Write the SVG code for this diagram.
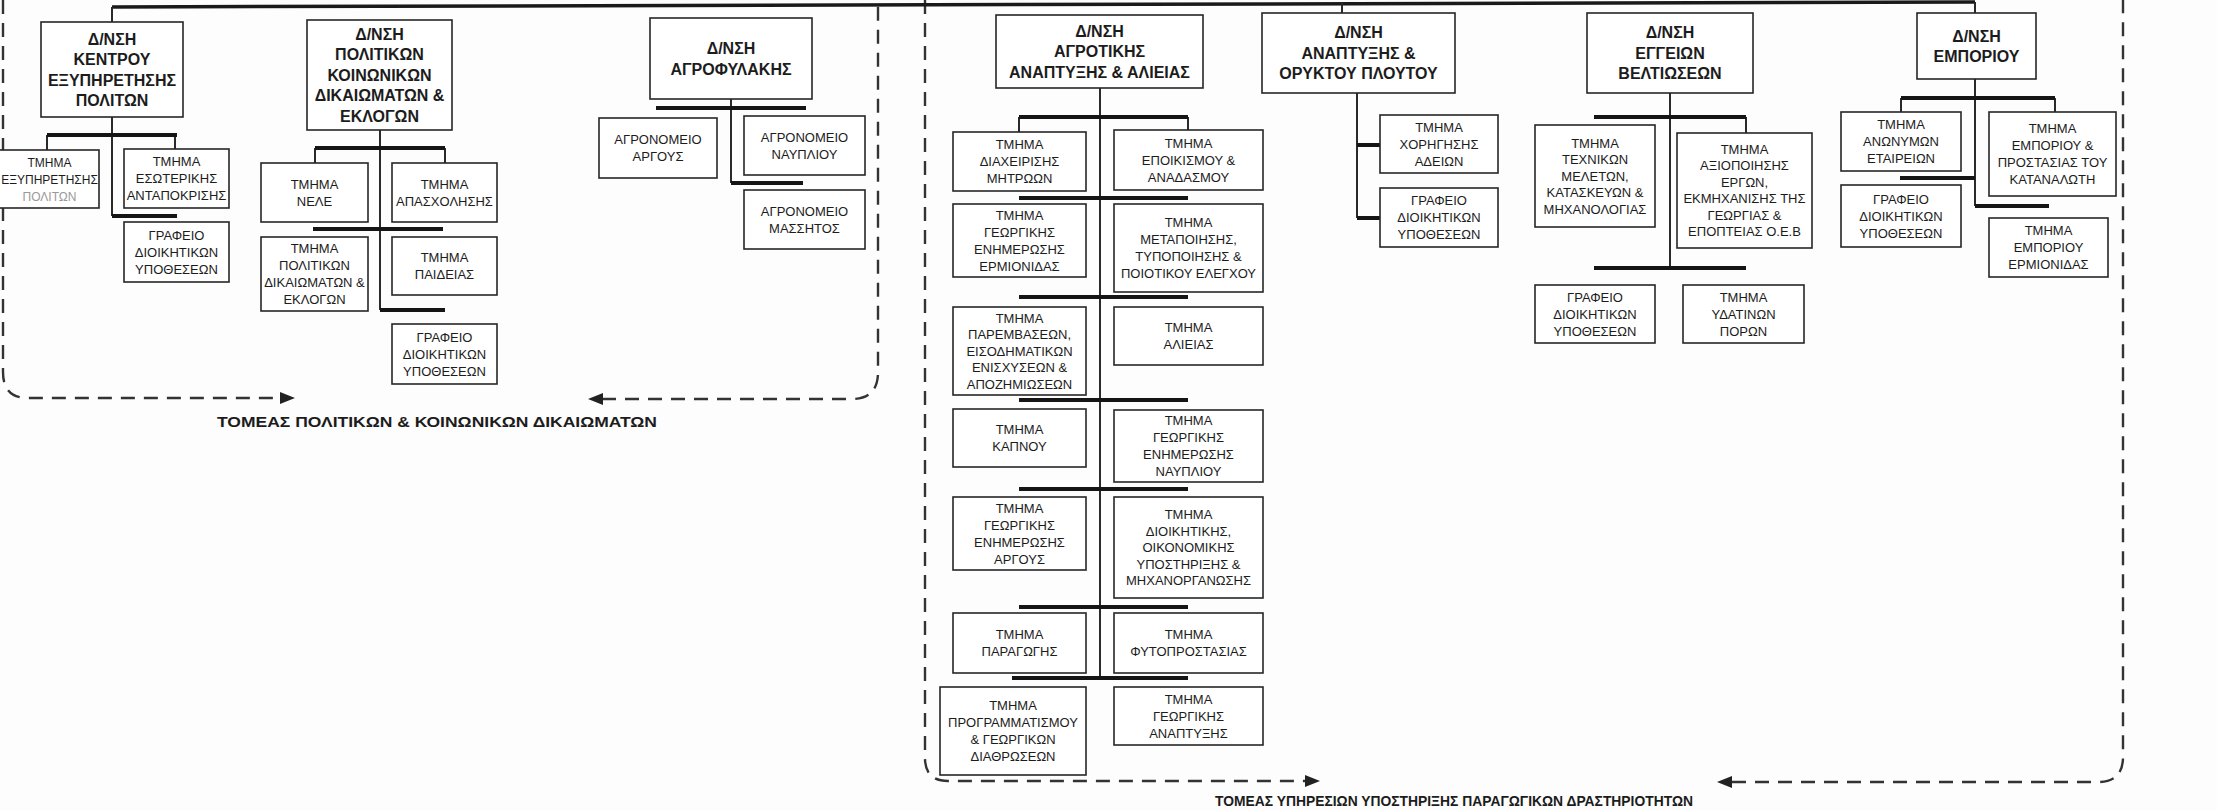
<svg xmlns="http://www.w3.org/2000/svg" width="2217" height="811" viewBox="0 0 2217 811">
<style>
text{font-family:"Liberation Sans",Arial,sans-serif;fill:#1c1c1c;text-anchor:middle}
.h{font-size:16px;font-weight:bold}
.s{font-size:13px}
.box{fill:#fff;stroke:#262626;stroke-width:1.6}
.ln{fill:none;stroke:#2a2a2a;stroke-width:2}
.bar{fill:none;stroke:#151515;stroke-width:4}
.top{fill:none;stroke:#1a1a1a;stroke-width:3.5}
.dash{fill:none;stroke:#333;stroke-width:2.4;stroke-dasharray:14 9}
.arr{fill:#222}
.lab{font-size:15px;font-weight:bold;text-anchor:start}
</style>
<rect width="2217" height="811" fill="#fdfdfd"/>

<g id="sectors">
<path class="dash" d="M3 0 V372 Q3 398 28 398 H282"/>
<polygon class="arr" points="295,398 280,392 280,404"/>
<path class="dash" d="M602 399 H852 Q878 399 878 372 V0"/>
<polygon class="arr" points="588,399 603,393 603,405"/>
<text class="lab" x="217" y="427" textLength="440" lengthAdjust="spacingAndGlyphs">ΤΟΜΕΑΣ ΠΟΛΙΤΙΚΩΝ &amp; ΚΟΙΝΩΝΙΚΩΝ ΔΙΚΑΙΩΜΑΤΩΝ</text>
<path class="dash" d="M925 0 V758 Q925 781 948 781 H1306"/>
<polygon class="arr" points="1320,781 1305,775 1305,787"/>
<path class="dash" d="M1732 782 H2098 Q2123 782 2123 757 V0"/>
<polygon class="arr" points="1717,782 1732,776 1732,788"/>
<text class="lab" x="1215" y="806" textLength="478" lengthAdjust="spacingAndGlyphs">ΤΟΜΕΑΣ ΥΠΗΡΕΣΙΩΝ ΥΠΟΣΤΗΡΙΞΗΣ ΠΑΡΑΓΩΓΙΚΩΝ ΔΡΑΣΤΗΡΙΟΤΗΤΩΝ</text>
</g>

<g id="connectors">
<path class="top" d="M112 7 L1975 2"/>
<path class="ln" d="M112 7 V22 M112 117 V216 M47 135 V150 M175 135 V149"/>
<path class="bar" d="M47 135 H177 M112 216 H177"/>
<path class="ln" d="M380 130 V310 M315 148 V163 M445 148 V163"/>
<path class="bar" d="M315 148 H445 M313 229 H443 M380 310 H445"/>
<path class="ln" d="M731 99 V183"/>
<path class="bar" d="M656 108 H806 M731 183 H803"/>
<path class="ln" d="M1100 88 V678 M1019 117 V132 M1188 117 V130"/>
<path class="bar" d="M1019 117 H1188 M1019 198 H1188 M1019 297 H1188 M1019 400 H1188 M1019 489 H1188 M1019 607 H1188 M1012 678 H1188"/>
<path class="ln" d="M1342 3 V13 M1357 93 V218"/>
<path class="bar" d="M1357 145 H1380 M1357 218 H1380"/>
<path class="ln" d="M1670 93 V268 M1746 117 V133"/>
<path class="bar" d="M1594 117 H1746 M1594 268 H1746"/>
<path class="ln" d="M1975 2 V13 M1975 79 V206 M1901 98 V112 M2055 98 V112"/>
<path class="bar" d="M1901 98 H2055 M1900 178 H1975 M1975 206 H2049"/>
</g>

<g id="n-kentrou">
<rect class="box" x="41" y="22" width="142" height="95"/>
<text class="h"><tspan x="112" y="44.5">Δ/ΝΣΗ</tspan><tspan x="112" y="65">ΚΕΝΤΡΟΥ</tspan><tspan x="112" y="85.5">ΕΞΥΠΗΡΕΤΗΣΗΣ</tspan><tspan x="112" y="106">ΠΟΛΙΤΩΝ</tspan></text>
</g>
<g id="n-exypiretisis">
<rect class="box" x="-4" y="150" width="103" height="58"/>
<text class="s" style="font-size:12px"><tspan x="49.5" y="166.6">ΤΜΗΜΑ</tspan><tspan x="49.5" y="183.6">ΕΞΥΠΗΡΕΤΗΣΗΣ</tspan><tspan x="49.5" y="200.6" fill="#9a9a9a">ΠΟΛΙΤΩΝ</tspan></text>
</g>
<g id="n-esoterikis">
<rect class="box" x="124" y="149" width="105" height="59"/>
<text class="s"><tspan x="176.5" y="166.2">ΤΜΗΜΑ</tspan><tspan x="176.5" y="183.2">ΕΣΩΤΕΡΙΚΗΣ</tspan><tspan x="176.5" y="200.2">ΑΝΤΑΠΟΚΡΙΣΗΣ</tspan></text>
</g>
<g id="n-grafeio1">
<rect class="box" x="124" y="222" width="105" height="60"/>
<text class="s"><tspan x="176.5" y="239.6">ΓΡΑΦΕΙΟ</tspan><tspan x="176.5" y="256.6">ΔΙΟΙΚΗΤΙΚΩΝ</tspan><tspan x="176.5" y="273.6">ΥΠΟΘΕΣΕΩΝ</tspan></text>
</g>

<g id="n-politikon">
<rect class="box" x="307" y="20" width="145" height="110"/>
<text class="h"><tspan x="379.5" y="39.7">Δ/ΝΣΗ</tspan><tspan x="379.5" y="60.2">ΠΟΛΙΤΙΚΩΝ</tspan><tspan x="379.5" y="80.7">ΚΟΙΝΩΝΙΚΩΝ</tspan><tspan x="379.5" y="101.2">ΔΙΚΑΙΩΜΑΤΩΝ &amp;</tspan><tspan x="379.5" y="121.7">ΕΚΛΟΓΩΝ</tspan></text>
</g>
<g id="n-nele">
<rect class="box" x="261" y="163" width="107" height="59"/>
<text class="s"><tspan x="314.5" y="188.7">ΤΜΗΜΑ</tspan><tspan x="314.5" y="205.7">ΝΕΛΕ</tspan></text>
</g>
<g id="n-apasxolisis">
<rect class="box" x="392" y="163" width="105" height="59"/>
<text class="s"><tspan x="444.5" y="188.7">ΤΜΗΜΑ</tspan><tspan x="444.5" y="205.7">ΑΠΑΣΧΟΛΗΣΗΣ</tspan></text>
</g>
<g id="n-pol-dikaiomaton">
<rect class="box" x="261" y="237" width="107" height="74"/>
<text class="s"><tspan x="314.5" y="253.2">ΤΜΗΜΑ</tspan><tspan x="314.5" y="270.2">ΠΟΛΙΤΙΚΩΝ</tspan><tspan x="314.5" y="287.2">ΔΙΚΑΙΩΜΑΤΩΝ &amp;</tspan><tspan x="314.5" y="304.2">ΕΚΛΟΓΩΝ</tspan></text>
</g>
<g id="n-paideias">
<rect class="box" x="392" y="237" width="105" height="58"/>
<text class="s"><tspan x="444.5" y="262.2">ΤΜΗΜΑ</tspan><tspan x="444.5" y="279.2">ΠΑΙΔΕΙΑΣ</tspan></text>
</g>
<g id="n-grafeio2">
<rect class="box" x="392" y="324" width="105" height="60"/>
<text class="s"><tspan x="444.5" y="341.6">ΓΡΑΦΕΙΟ</tspan><tspan x="444.5" y="358.6">ΔΙΟΙΚΗΤΙΚΩΝ</tspan><tspan x="444.5" y="375.6">ΥΠΟΘΕΣΕΩΝ</tspan></text>
</g>

<g id="n-agrofylakis">
<rect class="box" x="650" y="18" width="162" height="81"/>
<text class="h"><tspan x="731" y="54">Δ/ΝΣΗ</tspan><tspan x="731" y="74.5">ΑΓΡΟΦΥΛΑΚΗΣ</tspan></text>
</g>
<g id="n-argous">
<rect class="box" x="599" y="118" width="118" height="60"/>
<text class="s"><tspan x="658" y="144.2">ΑΓΡΟΝΟΜΕΙΟ</tspan><tspan x="658" y="161.2">ΑΡΓΟΥΣ</tspan></text>
</g>
<g id="n-nafpliou">
<rect class="box" x="744" y="116" width="121" height="59"/>
<text class="s"><tspan x="804.5" y="141.6">ΑΓΡΟΝΟΜΕΙΟ</tspan><tspan x="804.5" y="158.6">ΝΑΥΠΛΙΟΥ</tspan></text>
</g>
<g id="n-massitos">
<rect class="box" x="744" y="190" width="121" height="59"/>
<text class="s"><tspan x="804.5" y="215.6">ΑΓΡΟΝΟΜΕΙΟ</tspan><tspan x="804.5" y="232.6">ΜΑΣΣΗΤΟΣ</tspan></text>
</g>

<g id="n-agrotikis">
<rect class="box" x="996" y="15" width="207" height="73"/>
<text class="h"><tspan x="1099.5" y="36.7">Δ/ΝΣΗ</tspan><tspan x="1099.5" y="57.2">ΑΓΡΟΤΙΚΗΣ</tspan><tspan x="1099.5" y="77.7">ΑΝΑΠΤΥΞΗΣ &amp; ΑΛΙΕΙΑΣ</tspan></text>
</g>
<g id="n-mitroon">
<rect class="box" x="953" y="132" width="133" height="59"/>
<text class="s"><tspan x="1019.5" y="149.2">ΤΜΗΜΑ</tspan><tspan x="1019.5" y="166.2">ΔΙΑΧΕΙΡΙΣΗΣ</tspan><tspan x="1019.5" y="183.2">ΜΗΤΡΩΩΝ</tspan></text>
</g>
<g id="n-epoikismou">
<rect class="box" x="1114" y="130" width="149" height="60"/>
<text class="s"><tspan x="1188.5" y="147.6">ΤΜΗΜΑ</tspan><tspan x="1188.5" y="164.6">ΕΠΟΙΚΙΣΜΟΥ &amp;</tspan><tspan x="1188.5" y="181.6">ΑΝΑΔΑΣΜΟΥ</tspan></text>
</g>
<g id="n-enim-ermionidas">
<rect class="box" x="953" y="204" width="133" height="73"/>
<text class="s"><tspan x="1019.5" y="219.6">ΤΜΗΜΑ</tspan><tspan x="1019.5" y="236.6">ΓΕΩΡΓΙΚΗΣ</tspan><tspan x="1019.5" y="253.6">ΕΝΗΜΕΡΩΣΗΣ</tspan><tspan x="1019.5" y="270.6">ΕΡΜΙΟΝΙΔΑΣ</tspan></text>
</g>
<g id="n-metapoiisis">
<rect class="box" x="1114" y="204" width="149" height="88"/>
<text class="s"><tspan x="1188.5" y="227.2">ΤΜΗΜΑ</tspan><tspan x="1188.5" y="244.2">ΜΕΤΑΠΟΙΗΣΗΣ,</tspan><tspan x="1188.5" y="261.2">ΤΥΠΟΠΟΙΗΣΗΣ &amp;</tspan><tspan x="1188.5" y="278.2">ΠΟΙΟΤΙΚΟΥ ΕΛΕΓΧΟΥ</tspan></text>
</g>
<g id="n-paremvaseon">
<rect class="box" x="953" y="307" width="133" height="88"/>
<text class="s"><tspan x="1019.5" y="322.6">ΤΜΗΜΑ</tspan><tspan x="1019.5" y="339.1">ΠΑΡΕΜΒΑΣΕΩΝ,</tspan><tspan x="1019.5" y="355.6">ΕΙΣΟΔΗΜΑΤΙΚΩΝ</tspan><tspan x="1019.5" y="372.1">ΕΝΙΣΧΥΣΕΩΝ &amp;</tspan><tspan x="1019.5" y="388.6">ΑΠΟΖΗΜΙΩΣΕΩΝ</tspan></text>
</g>
<g id="n-alieias">
<rect class="box" x="1114" y="307" width="149" height="58"/>
<text class="s"><tspan x="1188.5" y="332.2">ΤΜΗΜΑ</tspan><tspan x="1188.5" y="349.2">ΑΛΙΕΙΑΣ</tspan></text>
</g>
<g id="n-kapnou">
<rect class="box" x="953" y="409" width="133" height="58"/>
<text class="s"><tspan x="1019.5" y="434.2">ΤΜΗΜΑ</tspan><tspan x="1019.5" y="451.2">ΚΑΠΝΟΥ</tspan></text>
</g>
<g id="n-enim-nafpliou">
<rect class="box" x="1114" y="410" width="149" height="72"/>
<text class="s"><tspan x="1188.5" y="425.2">ΤΜΗΜΑ</tspan><tspan x="1188.5" y="442.2">ΓΕΩΡΓΙΚΗΣ</tspan><tspan x="1188.5" y="459.2">ΕΝΗΜΕΡΩΣΗΣ</tspan><tspan x="1188.5" y="476.2">ΝΑΥΠΛΙΟΥ</tspan></text>
</g>
<g id="n-enim-argous">
<rect class="box" x="953" y="497" width="133" height="73"/>
<text class="s"><tspan x="1019.5" y="512.6">ΤΜΗΜΑ</tspan><tspan x="1019.5" y="529.6">ΓΕΩΡΓΙΚΗΣ</tspan><tspan x="1019.5" y="546.6">ΕΝΗΜΕΡΩΣΗΣ</tspan><tspan x="1019.5" y="563.6">ΑΡΓΟΥΣ</tspan></text>
</g>
<g id="n-dioikitikis">
<rect class="box" x="1114" y="497" width="149" height="101"/>
<text class="s"><tspan x="1188.5" y="519.2">ΤΜΗΜΑ</tspan><tspan x="1188.5" y="535.7">ΔΙΟΙΚΗΤΙΚΗΣ,</tspan><tspan x="1188.5" y="552.2">ΟΙΚΟΝΟΜΙΚΗΣ</tspan><tspan x="1188.5" y="568.7">ΥΠΟΣΤΗΡΙΞΗΣ &amp;</tspan><tspan x="1188.5" y="585.2">ΜΗΧΑΝΟΡΓΑΝΩΣΗΣ</tspan></text>
</g>
<g id="n-paragogis">
<rect class="box" x="953" y="613" width="133" height="60"/>
<text class="s"><tspan x="1019.5" y="639.2">ΤΜΗΜΑ</tspan><tspan x="1019.5" y="656.2">ΠΑΡΑΓΩΓΗΣ</tspan></text>
</g>
<g id="n-fytoprostasias">
<rect class="box" x="1114" y="613" width="149" height="60"/>
<text class="s"><tspan x="1188.5" y="639.2">ΤΜΗΜΑ</tspan><tspan x="1188.5" y="656.2">ΦΥΤΟΠΡΟΣΤΑΣΙΑΣ</tspan></text>
</g>
<g id="n-programmatismou">
<rect class="box" x="940" y="687" width="146" height="88"/>
<text class="s"><tspan x="1013" y="710.2">ΤΜΗΜΑ</tspan><tspan x="1013" y="727.2">ΠΡΟΓΡΑΜΜΑΤΙΣΜΟΥ</tspan><tspan x="1013" y="744.2">&amp; ΓΕΩΡΓΙΚΩΝ</tspan><tspan x="1013" y="761.2">ΔΙΑΘΡΩΣΕΩΝ</tspan></text>
</g>
<g id="n-georg-anaptyxis">
<rect class="box" x="1114" y="687" width="149" height="58"/>
<text class="s"><tspan x="1188.5" y="703.6">ΤΜΗΜΑ</tspan><tspan x="1188.5" y="720.6">ΓΕΩΡΓΙΚΗΣ</tspan><tspan x="1188.5" y="737.6">ΑΝΑΠΤΥΞΗΣ</tspan></text>
</g>

<g id="n-oryktou">
<rect class="box" x="1262" y="13" width="193" height="80"/>
<text class="h"><tspan x="1358.5" y="38.2">Δ/ΝΣΗ</tspan><tspan x="1358.5" y="58.7">ΑΝΑΠΤΥΞΗΣ &amp;</tspan><tspan x="1358.5" y="79.2">ΟΡΥΚΤΟΥ ΠΛΟΥΤΟΥ</tspan></text>
</g>
<g id="n-adeion">
<rect class="box" x="1380" y="115" width="118" height="58"/>
<text class="s"><tspan x="1439" y="131.6">ΤΜΗΜΑ</tspan><tspan x="1439" y="148.6">ΧΟΡΗΓΗΣΗΣ</tspan><tspan x="1439" y="165.6">ΑΔΕΙΩΝ</tspan></text>
</g>
<g id="n-grafeio3">
<rect class="box" x="1380" y="188" width="118" height="59"/>
<text class="s"><tspan x="1439" y="205.2">ΓΡΑΦΕΙΟ</tspan><tspan x="1439" y="222.2">ΔΙΟΙΚΗΤΙΚΩΝ</tspan><tspan x="1439" y="239.2">ΥΠΟΘΕΣΕΩΝ</tspan></text>
</g>

<g id="n-eggeion">
<rect class="box" x="1587" y="13" width="166" height="80"/>
<text class="h"><tspan x="1670" y="38.2">Δ/ΝΣΗ</tspan><tspan x="1670" y="58.7">ΕΓΓΕΙΩΝ</tspan><tspan x="1670" y="79.2">ΒΕΛΤΙΩΣΕΩΝ</tspan></text>
</g>
<g id="n-texnikon">
<rect class="box" x="1535" y="125" width="120" height="102"/>
<text class="s"><tspan x="1595" y="147.6">ΤΜΗΜΑ</tspan><tspan x="1595" y="164.1">ΤΕΧΝΙΚΩΝ</tspan><tspan x="1595" y="180.6">ΜΕΛΕΤΩΝ,</tspan><tspan x="1595" y="197.1">ΚΑΤΑΣΚΕΥΩΝ &amp;</tspan><tspan x="1595" y="213.6">ΜΗΧΑΝΟΛΟΓΙΑΣ</tspan></text>
</g>
<g id="n-axiopoiisis">
<rect class="box" x="1677" y="133" width="135" height="115"/>
<text class="s"><tspan x="1744.5" y="153.9">ΤΜΗΜΑ</tspan><tspan x="1744.5" y="170.4">ΑΞΙΟΠΟΙΗΣΗΣ</tspan><tspan x="1744.5" y="186.9">ΕΡΓΩΝ,</tspan><tspan x="1744.5" y="203.4">ΕΚΜΗΧΑΝΙΣΗΣ ΤΗΣ</tspan><tspan x="1744.5" y="219.9">ΓΕΩΡΓΙΑΣ &amp;</tspan><tspan x="1744.5" y="236.4">ΕΠΟΠΤΕΙΑΣ Ο.Ε.Β</tspan></text>
</g>
<g id="n-grafeio4">
<rect class="box" x="1535" y="285" width="120" height="58"/>
<text class="s"><tspan x="1595" y="301.6">ΓΡΑΦΕΙΟ</tspan><tspan x="1595" y="318.6">ΔΙΟΙΚΗΤΙΚΩΝ</tspan><tspan x="1595" y="335.6">ΥΠΟΘΕΣΕΩΝ</tspan></text>
</g>
<g id="n-ydatinon">
<rect class="box" x="1683" y="285" width="121" height="58"/>
<text class="s"><tspan x="1743.5" y="301.6">ΤΜΗΜΑ</tspan><tspan x="1743.5" y="318.6">ΥΔΑΤΙΝΩΝ</tspan><tspan x="1743.5" y="335.6">ΠΟΡΩΝ</tspan></text>
</g>

<g id="n-emporiou">
<rect class="box" x="1917" y="13" width="119" height="66"/>
<text class="h"><tspan x="1976.5" y="41.5">Δ/ΝΣΗ</tspan><tspan x="1976.5" y="62">ΕΜΠΟΡΙΟΥ</tspan></text>
</g>
<g id="n-anonymon">
<rect class="box" x="1841" y="112" width="120" height="59"/>
<text class="s"><tspan x="1901" y="129.2">ΤΜΗΜΑ</tspan><tspan x="1901" y="146.2">ΑΝΩΝΥΜΩΝ</tspan><tspan x="1901" y="163.2">ΕΤΑΙΡΕΙΩΝ</tspan></text>
</g>
<g id="n-prostasias">
<rect class="box" x="1989" y="112" width="127" height="84"/>
<text class="s"><tspan x="2052.5" y="133.2">ΤΜΗΜΑ</tspan><tspan x="2052.5" y="150.2">ΕΜΠΟΡΙΟΥ &amp;</tspan><tspan x="2052.5" y="167.2">ΠΡΟΣΤΑΣΙΑΣ ΤΟΥ</tspan><tspan x="2052.5" y="184.2">ΚΑΤΑΝΑΛΩΤΗ</tspan></text>
</g>
<g id="n-grafeio5">
<rect class="box" x="1841" y="185" width="120" height="62"/>
<text class="s"><tspan x="1901" y="203.6">ΓΡΑΦΕΙΟ</tspan><tspan x="1901" y="220.6">ΔΙΟΙΚΗΤΙΚΩΝ</tspan><tspan x="1901" y="237.6">ΥΠΟΘΕΣΕΩΝ</tspan></text>
</g>
<g id="n-emp-ermionidas">
<rect class="box" x="1989" y="218" width="119" height="59"/>
<text class="s"><tspan x="2048.5" y="235.2">ΤΜΗΜΑ</tspan><tspan x="2048.5" y="252.2">ΕΜΠΟΡΙΟΥ</tspan><tspan x="2048.5" y="269.2">ΕΡΜΙΟΝΙΔΑΣ</tspan></text>
</g>
</svg>
